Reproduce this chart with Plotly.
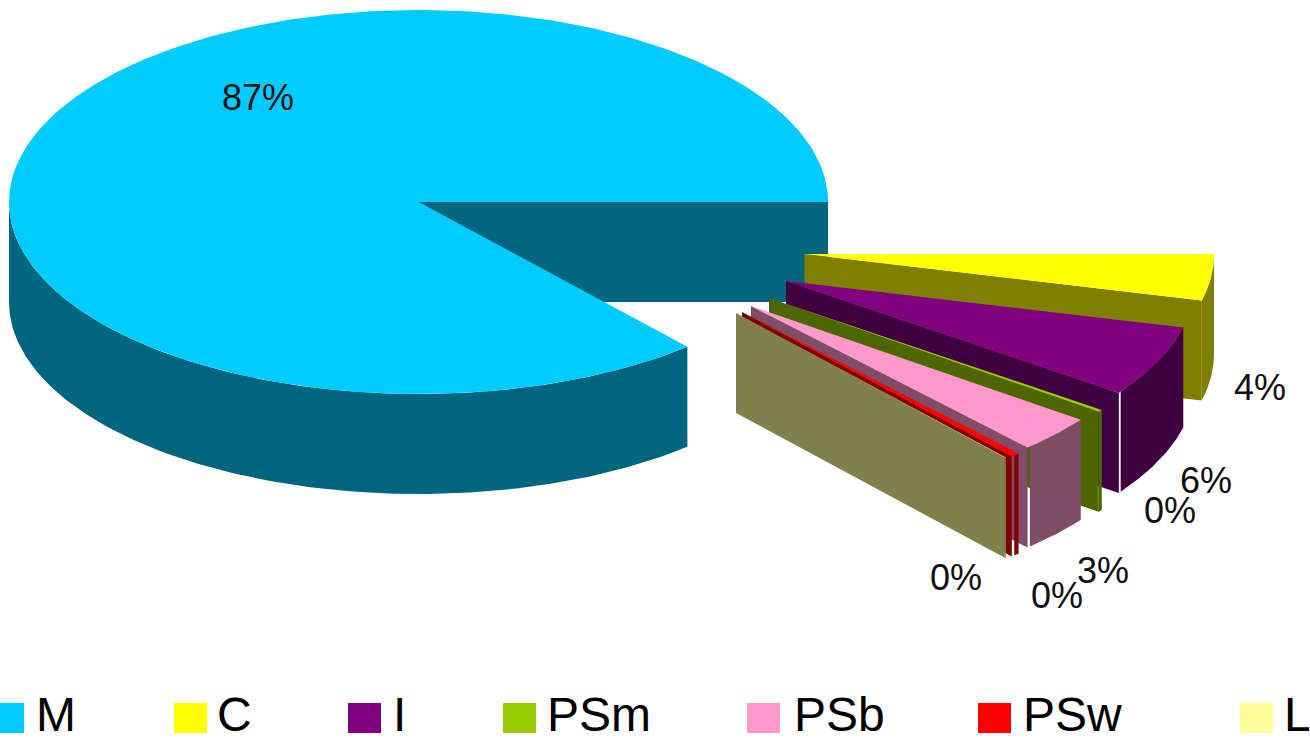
import numpy as np
import plotly.graph_objects as go

# ---- data ----
categories = ["M", "C", "I", "PSm", "PSb", "PSw", "L"]
shares = [86.4, 3.9, 6.0, 0.2, 3.1, 0.35, 0.05]
percent_labels = [87, 4, 6, 0, 3, 0, 0]
top_colors = ["#00CCFF", "#FFFF00", "#800080", "#99CC00", "#FF99CC", "#FF0000", "#FFFF99"]
side_colors = ["#006680", "#808000", "#400040", "#4D6600", "#804D66", "#800000", "#80804D"]

# ---- pie geometry (screen pixels) ----
W, H = 1310, 742
CX, CY, RX, RY, DEPTH = 418.5, 202, 409.5, 192, 100
explode_x = [0, 386, 367.5, 350.5, 332.5, 323.5, 317.5]
explode_y = [0, 52, 79, 96, 104, 110, 111]
gaps = [0, 0, 0.45, 0, 0.45, 0.45, 0]
label_x = [258, 1260, 1206, 1170, 1103, 1057, 956]
label_y = [97, 387, 480, 510, 570, 595, 577]
swatch_x = [-9, 174, 348, 503, 747, 978, 1240]
text_x = [35, 216, 392, 546, 793, 1022, 1283]
SWATCH_W, SWATCH_H, SWATCH_Y = 33, 30, 703

total = sum(shares)
sweeps = [v / total * 360 for v in shares]


def arc(cx, cy, a0, a1, n=160):
    t = np.radians(np.linspace(a0, a1, n))
    return cx + RX * np.cos(t), cy + RY * np.sin(t)


fig = go.Figure()


def poly(xs, ys, color, name):
    fig.add_trace(go.Scatter(
        x=list(xs), y=list(ys), mode="lines", fill="toself", fillcolor=color,
        line=dict(width=0, color=color), name=name, showlegend=False, hoverinfo="skip",
    ))


# main slice: clockwise on screen from its start angle up to the east point
m_start = 360 - sweeps[0]
poly([CX, CX + RX, CX + RX, CX], [CY, CY, CY + DEPTH, CY + DEPTH], side_colors[0], categories[0])
ax, ay = arc(CX, CY, m_start, 180)
poly(np.r_[ax, ax[::-1]], np.r_[ay, ay[::-1] + DEPTH], side_colors[0], categories[0])
tx, ty = arc(CX, CY, m_start, 360, 300)
poly(np.r_[CX, tx], np.r_[CY, ty], top_colors[0], categories[0])

# exploded slices, back to front
angle = 0.0
for i in range(1, len(categories)):
    a0, a1 = angle, angle + sweeps[i]
    angle = a1
    px, py = CX + explode_x[i], CY + explode_y[i]
    rx, ry = arc(px, py, a0, max(a0 + 0.05, a1 - gaps[i]), 60)
    poly(np.r_[rx, rx[::-1]], np.r_[ry, ry[::-1] + DEPTH], side_colors[i], categories[i])
    ex, ey = arc(px, py, a1, a1, 1)
    poly([px, ex[0], ex[0], px], [py, ey[0], ey[0] + DEPTH, py + DEPTH], side_colors[i], categories[i])
    sx, sy = arc(px, py, a0, a1, 60)
    poly(np.r_[px, sx], np.r_[py, sy], top_colors[i], categories[i])

annotations = []
for pct, lx, ly in zip(percent_labels, label_x, label_y):
    annotations.append(dict(
        x=lx, y=ly, xref="x", yref="y", text=f"{pct}%", showarrow=False,
        xanchor="center", yanchor="middle",
        font=dict(family="Liberation Sans", size=36, color="#111111"),
    ))

shapes = []
for name, c, sx, tx0 in zip(categories, top_colors, swatch_x, text_x):
    shapes.append(dict(
        type="rect", xref="x", yref="y", x0=sx, x1=sx + SWATCH_W,
        y0=SWATCH_Y, y1=SWATCH_Y + SWATCH_H, fillcolor=c, line=dict(width=0),
    ))
    annotations.append(dict(
        x=tx0, y=H, xref="x", yref="y", text=name, showarrow=False,
        xanchor="left", yanchor="bottom", borderpad=0,
        font=dict(family="Liberation Sans", size=48, color="#000000"),
    ))

fig.update_layout(
    width=W, height=H, margin=dict(l=0, r=0, t=0, b=0),
    paper_bgcolor="white", plot_bgcolor="white", showlegend=False,
    xaxis=dict(range=[0, W], visible=False, fixedrange=True),
    yaxis=dict(range=[H, 0], visible=False, fixedrange=True),
    annotations=annotations, shapes=shapes,
)
fig.write_html("out.html", post_script="document.body.style.margin='0';document.body.style.overflow='hidden';",
               config={"displayModeBar": False})
